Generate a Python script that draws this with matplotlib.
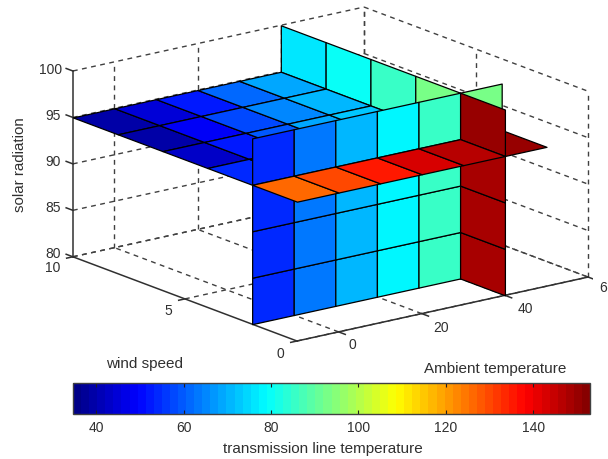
import numpy as np
import matplotlib
matplotlib.use('Agg')
import matplotlib.pyplot as plt
from matplotlib.cm import ScalarMappable
from matplotlib.colors import ListedColormap, Normalize
from mpl_toolkits.mplot3d.art3d import Poly3DCollection

plt.rcParams['font.family'] = ['Liberation Sans', 'DejaVu Sans']

# cell edges of the slices
x_edges = [-10, 0, 10, 20, 30, 40, 50]
y_edges = [0, 2, 4, 6, 8, 10]
z_edges = [80, 85, 90, 95, 100]
slice_x = 40
slice_y = 2
slice_z = 95

# line temperature on the z slice: rows are y cells, columns are x cells
temp_z = [
    [126.5, 130.6, 136, 142, 147, 149.5],
    [55, 57, 62, 68, 78, 85],
    [43, 52, 60, 68, 73, 80],
    [40, 49, 58, 65, 71, 78],
    [38.5, 45, 53, 61, 68, 76],
]
# y slice: rows are z cells, columns are x cells
temp_y = [
    [55, 63, 70, 78, 85, 93],
    [55, 63, 70, 78, 85, 93],
    [55, 63, 70, 78, 85, 93],
    [55, 63, 70, 78, 85, 93],
]
# x slice: rows are z cells, columns are y cells
temp_x = [
    [148.5, 93, 85, 80, 77],
    [148.5, 93, 85, 80, 77],
    [148.5, 93, 85, 80, 77],
    [149.5, 93, 85, 80, 77],
]

x_ticks = [0, 20, 40, 60]
y_ticks = [0, 5, 10]
z_ticks = [80, 85, 90, 95, 100]
cbar_ticks = [40, 60, 80, 100, 120, 140]
temp_min, temp_max = 34.7, 153

W, H = 608, 459
fig = plt.figure(figsize=(W / 100, H / 100), dpi=100)
ax = fig.add_axes([53.8 / W, 8.3 / H, 538.8 / W, 538.8 / H], projection='3d',
                  proj_type='ortho', computed_zorder=False)
ax.set_box_aspect((366.5, 369, 194))
ax.view_init(elev=16.7, azim=232.6)
ax.set_xlim(-10, 60, view_margin=0)
ax.set_ylim(0, 10, view_margin=0)
ax.set_zlim(80, 100, view_margin=0)
ax.set_axis_off()

# matlab jet with 64 levels, matplotlib's own jet is a bit different
t = (np.arange(64) + 0.5) / 64
jet = np.clip(np.array([np.minimum(4 * t - 1.5, 4.5 - 4 * t),
                        np.minimum(4 * t - 0.5, 3.5 - 4 * t),
                        np.minimum(4 * t + 0.5, 2.5 - 4 * t)]).T, 0, 1)
cmap = ListedColormap(jet)
norm = Normalize(temp_min, temp_max)
grid_kw = dict(color='#404040', lw=1.0, ls=(0, (3.5, 3.2)), zorder=0)
axis_kw = dict(color='#303030', lw=1.1, zorder=0)

# back walls and floor
xl, xr, yf, yb, zb, zt = -10, 60, 0, 10, 80, 100
for z in z_ticks:
    ax.plot([xl, xr], [yb, yb], [z, z], **grid_kw)
    ax.plot([xr, xr], [yb, yf], [z, z], **grid_kw)
for x in x_ticks:
    ax.plot([x, x], [yb, yb], [zb, zt], **grid_kw)
    ax.plot([x, x], [yf, yb], [zb, zb], **grid_kw)
for y in y_ticks:
    ax.plot([xr, xr], [y, y], [zb, zt], **grid_kw)
    ax.plot([xl, xr], [y, y], [zb, zb], **grid_kw)

# solid axes and tick marks
ax.plot([xl, xl], [yb, yb], [zb, zt], **axis_kw)
ax.plot([xl, xl], [yb, yf], [zb, zb], **axis_kw)
ax.plot([xl, xr], [yf, yf], [zb, zb], **axis_kw)
for z in z_ticks:
    ax.plot([xl, xl], [yb, yb + 0.3], [z, z], **axis_kw)
for y in y_ticks:
    ax.plot([xl, xl - 1.5], [y, y], [zb, zb], **axis_kw)
for x in x_ticks:
    ax.plot([x, x], [yf, yf - 0.3], [zb, zb], **axis_kw)


order = [0]


def add_cell(verts, value):
    order[0] += 1
    poly = Poly3DCollection([verts], facecolors=[cmap(norm(value))], edgecolors='k',
                            linewidths=0.9, zorder=order[0])
    ax.add_collection3d(poly, autolim=False)


def z_cells(rows, cols):
    for i in rows:
        for j in cols:
            x0, x1 = x_edges[j], x_edges[j + 1]
            y0, y1 = y_edges[i], y_edges[i + 1]
            add_cell([(x0, y0, slice_z), (x1, y0, slice_z), (x1, y1, slice_z), (x0, y1, slice_z)],
                     temp_z[i][j])


def y_cells(cols):
    for i in range(4):
        for j in cols:
            x0, x1 = x_edges[j], x_edges[j + 1]
            z0, z1 = z_edges[i], z_edges[i + 1]
            add_cell([(x0, slice_y, z0), (x1, slice_y, z0), (x1, slice_y, z1), (x0, slice_y, z1)],
                     temp_y[i][j])


def x_cells(cols):
    for i in range(4):
        for j in cols:
            y0, y1 = y_edges[j], y_edges[j + 1]
            z0, z1 = z_edges[i], z_edges[i + 1]
            add_cell([(slice_x, y0, z0), (slice_x, y1, z0), (slice_x, y1, z1), (slice_x, y0, z1)],
                     temp_x[i][j])


# painted back to front, the slices cross each other
z_cells([4, 3, 2, 1], [5])
x_cells([4, 3, 2, 1])
y_cells([5])
z_cells([4, 3, 2, 1], [0, 1, 2, 3, 4])
y_cells([0, 1, 2, 3, 4])
z_cells([0], [5])
x_cells([0])
z_cells([0], [0, 1, 2, 3, 4])


def label(px, py, s, **kw):
    kw.setdefault('color', '#303030')
    kw.setdefault('fontsize', 10)
    fig.text(px / W, 1 - py / H, s, ha='center', va='center', **kw)


for z, py in zip(z_ticks, [254, 208, 162, 116, 70]):
    label(53 if z < 100 else 51, py, str(z))
for s, px, py in [('10', 53, 268), ('5', 168, 311), ('0', 280, 354)]:
    label(px, py, s)
for s, px, py in [('0', 352, 345), ('20', 441, 328), ('40', 525, 309), ('6', 603, 288)]:
    label(px, py, s)
label(20, 165, 'solar radiation', rotation=90, fontsize=10.9)
label(145, 364, 'wind speed', fontsize=11)
label(495, 369, 'Ambient temperature', fontsize=11)
label(323, 449, 'transmission line temperature', fontsize=11)

cax = fig.add_axes([73 / W, 1 - 414 / H, 517 / W, 31 / H])
cbar = fig.colorbar(ScalarMappable(norm=norm, cmap=cmap), cax=cax, orientation='horizontal',
                    ticks=cbar_ticks)
cbar.outline.set_edgecolor('#404040')
cbar.outline.set_linewidth(1)
cax.tick_params(axis='x', direction='in', top=True, bottom=True, length=3, width=0.8,
                color='#202020', labelcolor='#303030', labelsize=10, pad=5)

fig.savefig('out.png', dpi=100)
